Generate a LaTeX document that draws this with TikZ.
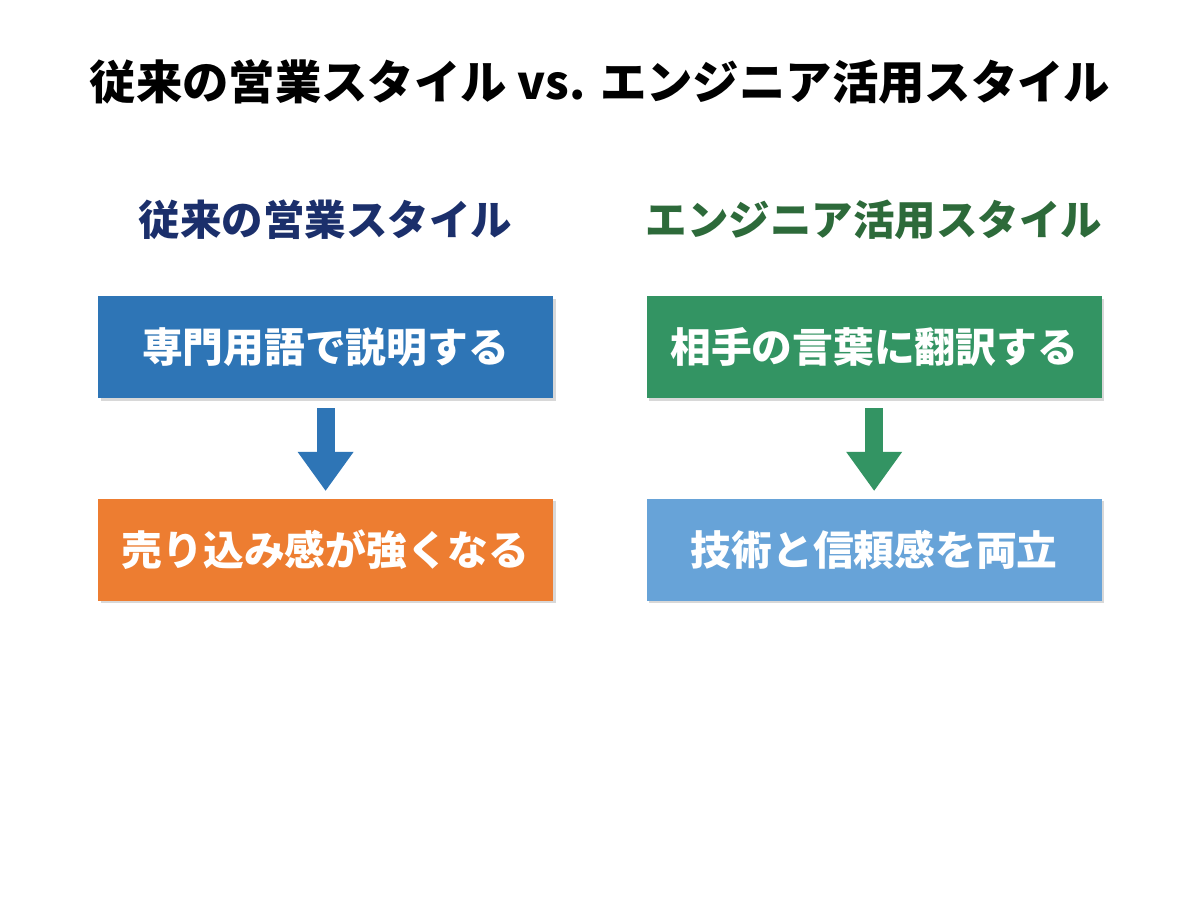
\documentclass[tikz,border=0pt]{standalone}
\usepackage{fontspec}
\setmainfont{Noto Sans CJK JP}
\usepackage{xcolor}
\usetikzlibrary{arrows.meta,positioning,shadows}
\definecolor{navyhd}{HTML}{1B2F6B}
\definecolor{greenhd}{HTML}{2D6A3A}
\definecolor{boxblue}{HTML}{2E75B6}
\definecolor{boxorange}{HTML}{ED7D31}
\definecolor{boxgreen}{HTML}{339463}
\definecolor{boxlight}{HTML}{67A3D8}
\begin{document}
\begin{tikzpicture}[>=Stealth,
  bx/.style={minimum width=11.375cm,minimum height=2.55cm,inner sep=0pt,
    font=\fontsize{29}{33}\selectfont\bfseries,text=white,
    drop shadow={shadow xshift=0.07cm,shadow yshift=-0.07cm,opacity=0.3}},
  hd/.style={font=\fontsize{29.5}{34}\selectfont\bfseries},
  arr/.style={line width=0.45cm,-{Triangle[length=0.98cm,width=1.33cm]},
    shorten <=0.25cm,shorten >=0.18cm}]
  \useasboundingbox[fill=white] (0,0) rectangle (30,22.4);
  \node[font=\fontsize{33}{38}\selectfont\bfseries](title)at(15,20.35){従来の営業スタイル vs. エンジニア活用スタイル};
  % left column
  \node[hd,text=navyhd](lh)at(8.14,16.9){従来の営業スタイル};
  \node[bx,fill=boxblue](lt)at(8.14,13.725){専門用語で説明する};
  \node[bx,fill=boxorange,below=2.5cm of lt](lb){売り込み感が強くなる};
  \draw[arr,draw=boxblue,fill=boxblue] (lt) -- (lb);
  % right column
  \node[hd,text=greenhd](rh)at(21.85,16.9){エンジニア活用スタイル};
  \node[bx,fill=boxgreen,right=2.325cm of lt](rt){相手の言葉に翻訳する};
  \node[bx,fill=boxlight,below=2.5cm of rt](rb){技術と信頼感を両立};
  \draw[arr,draw=boxgreen,fill=boxgreen] (rt) -- (rb);
\end{tikzpicture}
\end{document}
